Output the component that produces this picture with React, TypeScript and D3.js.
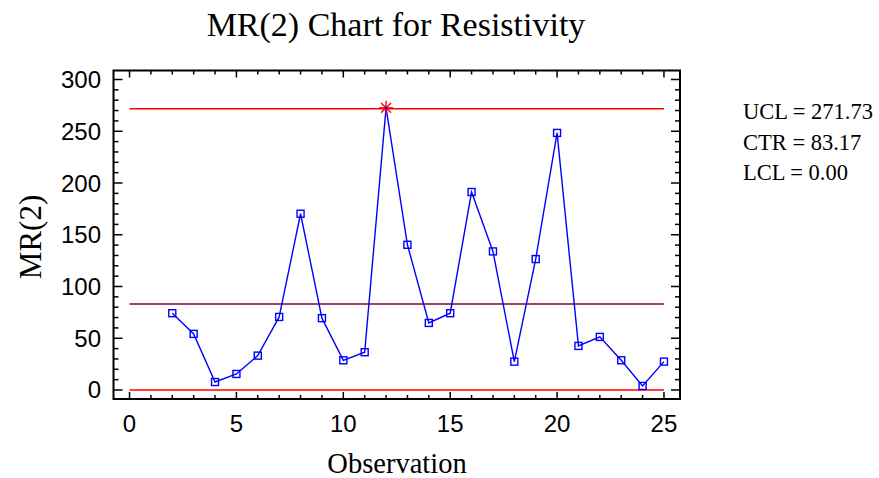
import React, { useEffect, useRef } from "react";
import * as d3 from "d3";

const observations = [2, 3, 4, 5, 6, 7, 8, 9, 10, 11, 12, 13, 14, 15, 16, 17, 18, 19, 20, 21, 22, 23, 24, 25];
const mrValues = [74.2, 54.2, 7.7, 15.5, 33.2, 70.6, 170.3, 69.4, 28.7, 36.5, 272.6, 140.3, 64.8, 74.2, 191.3, 133.9, 27.4, 126.5, 248.4, 42.6, 51.3, 28.7, 3.9, 27.4];
const UCL = 271.73;
const CTR = 83.17;
const LCL = 0.0;
const xTicks = [0, 5, 10, 15, 20, 25];
const yTicks = [0, 50, 100, 150, 200, 250, 300];
const legendLines = ["UCL = 271.73", "CTR = 83.17", "LCL = 0.00"];

const SERIF = "'Liberation Serif', 'Times New Roman', serif";
const SANS = "'Liberation Sans', Arial, sans-serif";

export default function App() {
  const ref = useRef<SVGSVGElement>(null);

  useEffect(() => {
    document.body.style.margin = "0";
    const svg = d3.select(ref.current);
    svg.selectAll("*").remove();

    const L = 113.5, R = 680, T = 70.5, B = 399;
    const x = d3.scaleLinear().domain([-0.75, 25.75]).range([L, R]);
    const y = d3.scaleLinear().domain([-8.7, 308.7]).range([B, T]);

    const g = svg.append("g");

    const lines = [
      { v: UCL, c: "#ff0000" },
      { v: CTR, c: "#800040" },
      { v: LCL, c: "#ff0000" },
    ];
    lines.forEach((l) => {
      g.append("line")
        .attr("x1", x(0)).attr("x2", x(25))
        .attr("y1", y(l.v)).attr("y2", y(l.v))
        .attr("stroke", l.c).attr("stroke-width", 1.5);
    });

    const data = observations.map((o, i) => ({ o, v: mrValues[i] }));
    const line = d3.line<{ o: number; v: number }>().x((d) => x(d.o)).y((d) => y(d.v));
    g.append("path").datum(data).attr("d", line).attr("fill", "none")
      .attr("stroke", "#0000ff").attr("stroke-width", 1.4);

    data.forEach((d) => {
      const cx = x(d.o), cy = y(d.v);
      if (d.v > UCL) {
        const r = 7;
        for (let k = 0; k < 4; k++) {
          const a = (k * Math.PI) / 4;
          g.append("line")
            .attr("x1", cx - r * Math.cos(a)).attr("y1", cy - r * Math.sin(a))
            .attr("x2", cx + r * Math.cos(a)).attr("y2", cy + r * Math.sin(a))
            .attr("stroke", "#ff0000").attr("stroke-width", 1.4);
        }
        g.append("circle").attr("cx", cx).attr("cy", cy).attr("r", 1.3).attr("fill", "#0000ff");
      } else {
        g.append("rect")
          .attr("x", cx - 3.5).attr("y", cy - 3.5)
          .attr("width", 7).attr("height", 7)
          .attr("fill", "none").attr("stroke", "#0000ff").attr("stroke-width", 1.4);
      }
    });

    g.append("rect").attr("x", L).attr("y", T).attr("width", R - L).attr("height", B - T)
      .attr("fill", "none").attr("stroke", "#000").attr("stroke-width", 2);

    for (let i = 0; i <= 25; i++) {
      const len = i % 5 === 0 ? 7 : 4;
      const px = x(i);
      g.append("line").attr("x1", px).attr("x2", px).attr("y1", B).attr("y2", B - len)
        .attr("stroke", "#000").attr("stroke-width", 1.5);
      g.append("line").attr("x1", px).attr("x2", px).attr("y1", T).attr("y2", T + len)
        .attr("stroke", "#000").attr("stroke-width", 1.5);
    }
    for (let v = 0; v <= 300; v += 10) {
      const len = v % 50 === 0 ? 9 : 5;
      const py = y(v);
      g.append("line").attr("x1", L).attr("x2", L + len).attr("y1", py).attr("y2", py)
        .attr("stroke", "#000").attr("stroke-width", 1.5);
      g.append("line").attr("x1", R).attr("x2", R - len).attr("y1", py).attr("y2", py)
        .attr("stroke", "#000").attr("stroke-width", 1.5);
    }

    xTicks.forEach((t) => {
      g.append("text").attr("x", x(t)).attr("y", 432)
        .attr("text-anchor", "middle")
        .attr("font-family", SANS)
        .attr("font-size", 24).attr("fill", "#000").text(String(t));
    });
    yTicks.forEach((t) => {
      g.append("text").attr("x", 101).attr("y", y(t) + 8.5)
        .attr("text-anchor", "end")
        .attr("font-family", SANS)
        .attr("font-size", 24).attr("fill", "#000").text(String(t));
    });

    g.append("text").attr("x", 396).attr("y", 36).attr("text-anchor", "middle")
      .attr("font-family", SERIF)
      .attr("font-size", 34).attr("fill", "#000").text("MR(2) Chart for Resistivity");

    g.append("text").attr("x", 397).attr("y", 473).attr("text-anchor", "middle")
      .attr("font-family", SERIF)
      .attr("font-size", 28.5).attr("fill", "#000").text("Observation");
    g.append("text").attr("transform", "translate(41,237) rotate(-90)").attr("text-anchor", "middle")
      .attr("font-family", SERIF)
      .attr("font-size", 31).attr("fill", "#000").text("MR(2)");

    legendLines.forEach((s, i) => {
      g.append("text").attr("x", 743).attr("y", 119 + i * 30.7)
        .attr("font-family", SERIF)
        .attr("font-size", 22.5).attr("fill", "#000").text(s);
    });
  }, []);

  return (
    <div style={{ position: "absolute", left: 0, top: 0 }}>
      <svg ref={ref} width={879} height={478} style={{ display: "block", background: "#fff" }} />
    </div>
  );
}
